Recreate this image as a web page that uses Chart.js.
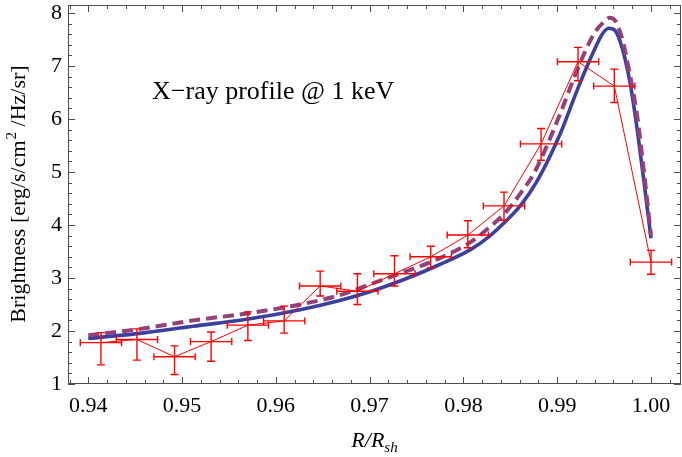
<!DOCTYPE html>
<html>
<head>
<meta charset="utf-8">
<script src="https://cdn.jsdelivr.net/npm/chart.js@4.4.1/dist/chart.umd.min.js"></script>
<style>
  html, body { margin: 0; padding: 0; background: #fff; }
  canvas { display: block; }
</style>
</head>
<body>
<canvas id="chart" width="682" height="457"></canvas>
<script>
'use strict';

// data points (red, with error bars)
const obsR = [0.94135, 0.94519, 0.9492, 0.9531, 0.95702, 0.96089, 0.96473, 0.9687,
              0.97265, 0.97652, 0.98047, 0.98433, 0.98828, 0.99222, 0.99609, 1.0000];
const obsB = [1.78, 1.84, 1.515, 1.80, 2.11, 2.19, 2.85, 2.75,
              3.08, 3.40, 3.81, 4.36, 5.53, 7.08, 6.62, 3.30];
const obsLow = [1.36, 1.45, 1.18, 1.43, 1.82, 1.96, 2.66, 2.50,
                2.85, 3.19, 3.57, 4.09, 5.22, 6.72, 6.31, 3.07];
const obsHigh = [1.97, 2.04, 1.72, 1.98, 2.36, 2.47, 3.13, 3.08,
                 3.42, 3.60, 4.08, 4.62, 5.82, 7.35, 6.94, 3.52];
const obsRErr = 0.0022;

// model curves
const blueR = [0.9400, 0.9452, 0.9512, 0.9569, 0.9626, 0.9667, 0.9702, 0.9738, 0.9773, 0.9808,
               0.9826, 0.9844, 0.9861, 0.9879, 0.9903, 0.9921, 0.9939, 0.9948, 0.9955, 0.9962,
               0.9967, 0.9972, 0.9978, 0.9985, 0.9992, 1.0000];
const blueB = [1.86, 1.95, 2.09, 2.22, 2.40, 2.57, 2.75, 2.98, 3.24, 3.54,
               3.76, 4.05, 4.37, 4.84, 5.71, 6.53, 7.28, 7.60, 7.71, 7.66,
               7.47, 7.16, 6.65, 5.84, 4.89, 3.75];
const purpleR = [0.9400, 0.9452, 0.9512, 0.9569, 0.9626, 0.9667, 0.9702, 0.9738, 0.9773, 0.9808,
                 0.9826, 0.9844, 0.9861, 0.9876, 0.9903, 0.9921, 0.9939, 0.9951, 0.9956, 0.9962,
                 0.9969, 0.9976, 0.9985, 0.9992, 1.0000];
const purpleB = [1.92, 2.03, 2.20, 2.33, 2.50, 2.67, 2.89, 3.12, 3.36, 3.68,
                 3.93, 4.22, 4.60, 5.00, 6.09, 6.91, 7.60, 7.85, 7.91, 7.85,
                 7.53, 6.97, 6.09, 5.08, 3.80];

// axes
const xTicks = [0.94, 0.95, 0.96, 0.97, 0.98, 0.99, 1.00];
const yTicks = [1, 2, 3, 4, 5, 6, 7, 8];

const serif = "'Liberation Serif', 'DejaVu Serif', serif";

function pts(xs, ys) {
    return xs.map((v, i) => ({ x: v, y: ys[i] }));
}

// Mathematica-like frame with inward ticks on all four sides
const frameTicks = {
    id: 'frameTicks',
    afterDraw(chart) {
        const { ctx, chartArea: a, scales: { x, y } } = chart;
        ctx.save();
        ctx.strokeStyle = '#4d4d4d';
        ctx.lineWidth = 1;
        ctx.strokeRect(a.left + 0.5, a.top + 0.5, a.right - a.left - 1, a.bottom - a.top - 1);

        ctx.beginPath();
        for (let k = Math.ceil(x.min / 0.002 - 1e-6); k * 0.002 <= x.max + 1e-9; k++) {
            const px = Math.round(x.getPixelForValue(k * 0.002)) + 0.5;
            const len = (k % 5 === 0) ? 7 : 4;
            ctx.moveTo(px, a.bottom); ctx.lineTo(px, a.bottom - len);
            ctx.moveTo(px, a.top); ctx.lineTo(px, a.top + len);
        }
        for (let k = Math.ceil(y.min / 0.2 - 1e-6); k * 0.2 <= y.max + 1e-9; k++) {
            const py = Math.round(y.getPixelForValue(k * 0.2)) + 0.5;
            const len = (k % 5 === 0) ? 7 : 4;
            ctx.moveTo(a.left, py); ctx.lineTo(a.left + len, py);
            ctx.moveTo(a.right, py); ctx.lineTo(a.right - len, py);
        }
        ctx.stroke();
        ctx.restore();
    }
};

// error bars for the measured profile
const errorBars = {
    id: 'errorBars',
    afterDatasetsDraw(chart) {
        const { ctx, scales: { x, y } } = chart;
        ctx.save();
        ctx.strokeStyle = '#ff0000';
        ctx.lineWidth = 1.4;
        ctx.beginPath();
        obsR.forEach((r, i) => {
            const px = x.getPixelForValue(r);
            const py = y.getPixelForValue(obsB[i]);
            const xl = x.getPixelForValue(r - obsRErr);
            const xr = x.getPixelForValue(r + obsRErr);
            const yl = y.getPixelForValue(obsLow[i]);
            const yh = y.getPixelForValue(obsHigh[i]);
            // horizontal
            ctx.moveTo(xl, py); ctx.lineTo(xr, py);
            ctx.moveTo(xl, py - 3.5); ctx.lineTo(xl, py + 3.5);
            ctx.moveTo(xr, py - 3.5); ctx.lineTo(xr, py + 3.5);
            // vertical
            ctx.moveTo(px, yl); ctx.lineTo(px, yh);
            ctx.moveTo(px - 4, yl); ctx.lineTo(px + 4, yl);
            ctx.moveTo(px - 4, yh); ctx.lineTo(px + 4, yh);
        });
        ctx.stroke();
        ctx.restore();
    }
};

// axis titles and the in-plot label
const labels = {
    id: 'labels',
    afterDraw(chart) {
        const { ctx, chartArea: a, scales: { x, y } } = chart;
        ctx.save();
        ctx.fillStyle = '#000';
        ctx.textBaseline = 'alphabetic';

        // in-plot title
        ctx.font = '26px ' + serif;
        ctx.textAlign = 'left';
        ctx.fillText('X\u2212ray profile @ 1 keV', x.getPixelForValue(0.9468), y.getPixelForValue(6.38));

        // x title: R/R_sh
        const cx = (a.left + a.right) / 2;
        ctx.font = 'italic 22px ' + serif;
        const w1 = ctx.measureText('R/R').width;
        ctx.font = 'italic 15px ' + serif;
        const w2 = ctx.measureText('sh').width;
        let sx = cx - (w1 + w2) / 2;
        ctx.font = 'italic 22px ' + serif;
        ctx.fillText('R/R', sx, 447);
        ctx.font = 'italic 15px ' + serif;
        ctx.fillText('sh', sx + w1, 452);

        // y title with superscript
        ctx.translate(25, (a.top + a.bottom) / 2);
        ctx.rotate(-Math.PI / 2);
        const p1 = 'Brightness [erg/s/cm', p2 = '2', p3 = ' /Hz/sr]';
        ctx.font = '22px ' + serif;
        const a1 = ctx.measureText(p1).width, a3 = ctx.measureText(p3).width;
        ctx.font = '15px ' + serif;
        const a2 = ctx.measureText(p2).width;
        let tx = -(a1 + a2 + a3) / 2;
        ctx.font = '22px ' + serif;
        ctx.fillText(p1, tx, 0);
        ctx.font = '15px ' + serif;
        ctx.fillText(p2, tx + a1 + 1, -9);
        ctx.font = '22px ' + serif;
        ctx.fillText(p3, tx + a1 + a2 + 1, 0);
        ctx.restore();
    }
};

const ctx = document.getElementById('chart').getContext('2d');
new Chart(ctx, {
    type: 'line',
    data: {
        datasets: [
            {
                data: pts(obsR, obsB),
                borderColor: '#ff0000',
                borderWidth: 1,
                pointRadius: 0,
                tension: 0,
                fill: false,
                order: 0
            },
            {
                data: pts(purpleR, purpleB),
                borderColor: '#94417a',
                borderWidth: 4,
                borderDash: [11, 6],
                pointRadius: 0,
                cubicInterpolationMode: 'monotone',
                fill: false,
                order: 1
            },
            {
                data: pts(blueR, blueB),
                borderColor: '#3d3f9e',
                borderWidth: 3.6,
                pointRadius: 0,
                cubicInterpolationMode: 'monotone',
                fill: false,
                order: 2
            }
        ]
    },
    options: {
        responsive: false,
        animation: false,
        events: [],
        layout: { padding: { top: 5, right: 1, left: 0, bottom: 0 } },
        plugins: {
            legend: { display: false },
            tooltip: { enabled: false }
        },
        scales: {
            x: {
                type: 'linear',
                min: 0.93784,
                max: 1.0032,
                grid: { display: false, drawTicks: false },
                border: { display: false },
                afterBuildTicks: s => { s.ticks = xTicks.map(v => ({ value: v })); },
                afterFit: s => { s.height = 73; s.paddingLeft = 0; s.paddingRight = 0; },
                ticks: {
                    color: '#000',
                    font: { family: serif, size: 22 },
                    padding: 9,
                    maxRotation: 0,
                    autoSkip: false,
                    callback: v => v.toFixed(2)
                }
            },
            y: {
                type: 'linear',
                min: 1,
                max: 8.15,
                grid: { display: false, drawTicks: false },
                border: { display: false },
                afterBuildTicks: s => { s.ticks = yTicks.map(v => ({ value: v })); },
                afterFit: s => { s.width = 68; s.paddingTop = 0; s.paddingBottom = 0; },
                ticks: {
                    color: '#000',
                    font: { family: serif, size: 22 },
                    padding: 6,
                    autoSkip: false,
                    callback: v => String(v)
                }
            }
        }
    },
    plugins: [errorBars, frameTicks, labels]
});
</script>
</body>
</html>
